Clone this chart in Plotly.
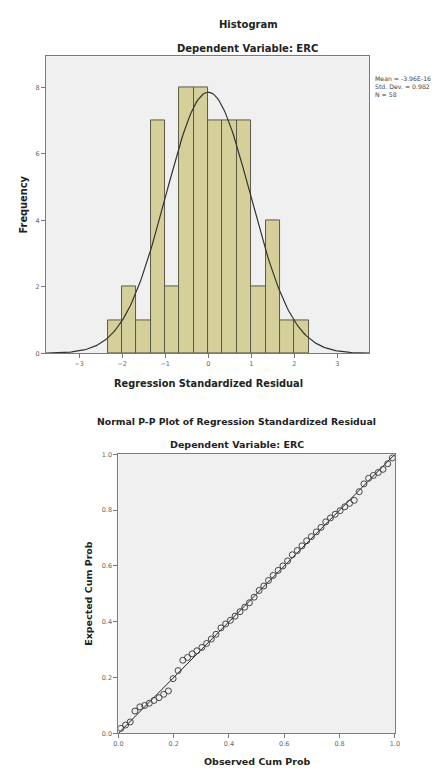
import plotly.graph_objects as go

# ---------------- data ----------------
bin_centers = [-13/6, -11/6, -9/6, -7/6, -5/6, -3/6, -1/6, 1/6, 3/6, 5/6, 7/6, 9/6, 11/6, 13/6]
bin_counts = [1, 2, 1, 7, 2, 8, 8, 7, 7, 7, 2, 4, 1, 1]
bin_width = 1/3
resid_mean = 0.0
resid_sd = 0.982
resid_n = 58
hist_xticks = [-3, -2, -1, 0, 1, 2, 3]
hist_yticks = [0, 2, 4, 6, 8]

observed_cum = [0.009, 0.026, 0.043, 0.060, 0.078, 0.095, 0.112, 0.129, 0.147, 0.164,
                0.181, 0.198, 0.216, 0.233, 0.250, 0.267, 0.284, 0.302, 0.319, 0.336,
                0.353, 0.371, 0.388, 0.405, 0.422, 0.440, 0.457, 0.474, 0.491, 0.509,
                0.526, 0.543, 0.560, 0.578, 0.595, 0.612, 0.629, 0.647, 0.664, 0.681,
                0.698, 0.716, 0.733, 0.750, 0.767, 0.784, 0.802, 0.819, 0.836, 0.853,
                0.871, 0.888, 0.905, 0.922, 0.940, 0.957, 0.974, 0.991]
expected_cum = [0.018, 0.030, 0.041, 0.080, 0.095, 0.100, 0.108, 0.118, 0.128, 0.140,
                0.152, 0.196, 0.225, 0.262, 0.272, 0.285, 0.296, 0.308, 0.322, 0.338,
                0.355, 0.378, 0.392, 0.405, 0.420, 0.436, 0.452, 0.468, 0.488, 0.512,
                0.528, 0.548, 0.566, 0.584, 0.600, 0.618, 0.640, 0.655, 0.672, 0.690,
                0.705, 0.722, 0.738, 0.758, 0.772, 0.785, 0.798, 0.812, 0.824, 0.835,
                0.866, 0.894, 0.914, 0.924, 0.935, 0.946, 0.966, 0.987]
pp_ticks = [0.0, 0.2, 0.4, 0.6, 0.8, 1.0]
ref_line = [0.0, 1.0]

# ---------------- figure ----------------
import math
W, H = 438, 772
FONT = "DejaVu Sans, Arial, sans-serif"

xmin, xmax = -3.77, 3.75
nc = 200
curve_x = [xmin + (xmax - xmin) * i / nc for i in range(nc + 1)]
curve_y = [resid_n * bin_width / (resid_sd * math.sqrt(2 * math.pi)) *
           math.exp(-0.5 * ((v - resid_mean) / resid_sd) ** 2) for v in curve_x]

fig = go.Figure()
fig.add_trace(go.Bar(x=bin_centers, y=bin_counts, width=bin_width,
                     marker=dict(color="#d5d09a", line=dict(color="#5a5a4a", width=1)),
                     xaxis="x", yaxis="y", showlegend=False))
fig.add_trace(go.Scatter(x=curve_x, y=curve_y, mode="lines",
                         line=dict(color="#333333", width=1.2),
                         xaxis="x", yaxis="y", showlegend=False))
fig.add_trace(go.Scatter(x=ref_line, y=ref_line, mode="lines",
                         line=dict(color="#222222", width=1),
                         xaxis="x2", yaxis="y2", showlegend=False))
fig.add_trace(go.Scatter(x=observed_cum, y=expected_cum, mode="markers",
                         marker=dict(symbol="circle-open", size=6, color="#444444",
                                     line=dict(width=1)),
                         xaxis="x2", yaxis="y2", showlegend=False))

def px(x):
    return x / W

def py(y):
    return 1 - y / H

axis_common = dict(showgrid=False, zeroline=False, showline=True, linecolor="#7a7a7a",
                   linewidth=1, mirror=True, ticks="outside", ticklen=4,
                   tickcolor="#7a7a7a", tickfont=dict(family=FONT, size=6.5, color="#666666"))

fig.update_layout(
    width=W, height=H,
    margin=dict(l=0, r=0, t=0, b=0),
    paper_bgcolor="white",
    plot_bgcolor="#f0f0f0",
    bargap=0,
    xaxis=dict(domain=[px(42), px(373)], range=[xmin, xmax], tickvals=hist_xticks,
               anchor="y", **axis_common),
    yaxis=dict(domain=[py(353), py(53)], range=[0, 8.93], tickvals=hist_yticks,
               anchor="x", **axis_common),
    xaxis2=dict(domain=[px(116), px(399)], range=[0, 1], tickvals=pp_ticks,
                tickformat=".1f", anchor="y2", **axis_common),
    yaxis2=dict(domain=[py(737), py(455)], range=[0, 1], tickvals=pp_ticks,
                tickformat=".1f", anchor="x2", **axis_common),
)

def txt(x, y, s, size=10, bold=True, angle=0, anchor="center", color="#222222"):
    fig.add_annotation(x=px(x), y=py(y), xref="paper", yref="paper",
                       text=f"<b>{s}</b>" if bold else s, showarrow=False,
                       textangle=angle, xanchor=anchor, yanchor="middle",
                       font=dict(family=FONT, size=size, color=color))

txt(249, 21, "Histogram", size=10)
txt(248, 45, "Dependent Variable: ERC", size=10)
txt(208, 383, "Regression Standardized Residual", size=9.8)
txt(19, 203, "Frequency", angle=-90, size=9.8)
txt(377, 75, "Mean = -3.96E-16", size=6.2, bold=False, anchor="left", color="#444444")
txt(377, 83, "Std. Dev. = 0.982", size=6.2, bold=False, anchor="left", color="#444444")
txt(377, 91, "N = 58", size=6.2, bold=False, anchor="left", color="#444444")

txt(237, 422, "Normal P-P Plot of Regression Standardized Residual", size=9.3)
txt(237, 445, "Dependent Variable: ERC", size=9.5)
txt(258, 765, "Observed Cum Prob", size=9.5)
txt(86, 596, "Expected Cum Prob", size=9.5, angle=-90)

fig.write_html("out.html",
               config={"displayModeBar": False},
               post_script="document.body.style.margin='0';document.body.style.padding='0';"
                           "document.body.style.overflow='hidden';")
